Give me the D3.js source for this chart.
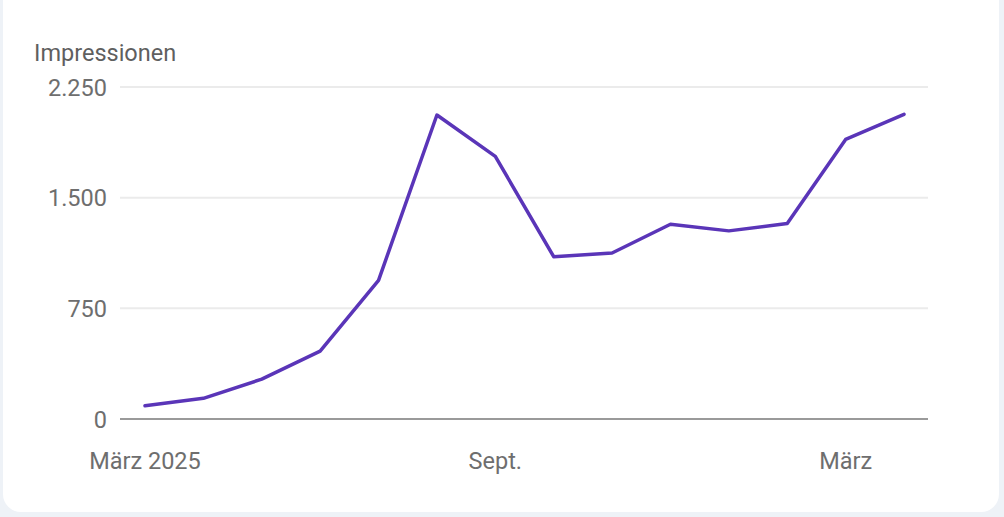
<!DOCTYPE html>
<html>
<head>
<meta charset="utf-8">
<script src="https://cdn.jsdelivr.net/npm/d3@7"></script>
<style>
  html, body { margin: 0; padding: 0; background: #eef2f7; width: 1004px; height: 517px; overflow: hidden; }
  #card { position: absolute; left: 3px; top: -20px; width: 996px; height: 532px; background: #fff; border-radius: 18px; }
  svg { position: absolute; left: 0; top: 0; }
  text { font-family: Roboto, "Noto Sans", sans-serif; }
</style>
</head>
<body>
<div id="card"></div>
<div id="chart"></div>
<script>
// Monate (März 2025 bis April 2026)
var months = ["2025-03","2025-04","2025-05","2025-06","2025-07","2025-08","2025-09",
              "2025-10","2025-11","2025-12","2026-01","2026-02","2026-03","2026-04"];
var impressions = [90, 140, 270, 460, 940, 2060, 1780, 1100, 1125, 1320, 1275, 1325, 1895, 2065];
var yTicks = [0, 750, 1500, 2250];
var xTickMonths = ["2025-03", "2025-09", "2026-03"];
var xTickLabels = ["März 2025", "Sept.", "März"];

var width = 1004;
var height = 517;
var plot = {left: 120, right: 928, top: 87, bottom: 419};

var svg = d3.select("#chart")
    .append("svg")
    .attr("width", width)
    .attr("height", height);

var xScale = d3.scalePoint()
    .domain(months)
    .range([145, 904]);
var yScale = d3.scaleLinear()
    .domain([0, 2250])
    .range([plot.bottom, plot.top]);

// Gitterlinien
svg.append("g")
    .selectAll("line")
    .data(yTicks.filter(function (d) { return d > 0; }))
    .enter().append("line")
    .attr("x1", plot.left)
    .attr("x2", plot.right)
    .attr("y1", function (d) { return yScale(d); })
    .attr("y2", function (d) { return yScale(d); })
    .attr("stroke", "#ebebeb")
    .attr("stroke-width", 2);

// Grundlinie
svg.append("line")
    .attr("x1", plot.left)
    .attr("x2", plot.right)
    .attr("y1", yScale(0))
    .attr("y2", yScale(0))
    .attr("stroke", "#9a9a9a")
    .attr("stroke-width", 2);

// y-Achse Beschriftung
var fmt = function (d) { return d3.format(",")(d).replace(/,/g, "."); };
svg.append("g")
    .selectAll("text")
    .data(yTicks)
    .enter().append("text")
    .attr("x", 107)
    .attr("y", function (d) { return yScale(d) + 8.5; })
    .attr("text-anchor", "end")
    .attr("font-size", 23.5)
    .attr("fill", "#6e6e6e")
    .text(fmt);

svg.append("text")
    .attr("x", 34)
    .attr("y", 61)
    .attr("font-size", 23.5)
    .attr("fill", "#5f5f5f")
    .text("Impressionen");

// x-Achse Beschriftung
svg.append("g")
    .selectAll("text")
    .data(xTickMonths)
    .enter().append("text")
    .attr("x", function (d) { return xScale(d); })
    .attr("y", 469)
    .attr("text-anchor", "middle")
    .attr("font-size", 23.5)
    .attr("fill", "#6e6e6e")
    .text(function (d, i) { return xTickLabels[i]; });

// Linie
var line = d3.line()
    .x(function (d, i) { return xScale(months[i]); })
    .y(function (d) { return yScale(d); });

svg.append("path")
    .datum(impressions)
    .attr("d", line)
    .attr("fill", "none")
    .attr("stroke", "#5a35b8")
    .attr("stroke-width", 3.5)
    .attr("stroke-linejoin", "round")
    .attr("stroke-linecap", "round");
</script>
</body>
</html>
